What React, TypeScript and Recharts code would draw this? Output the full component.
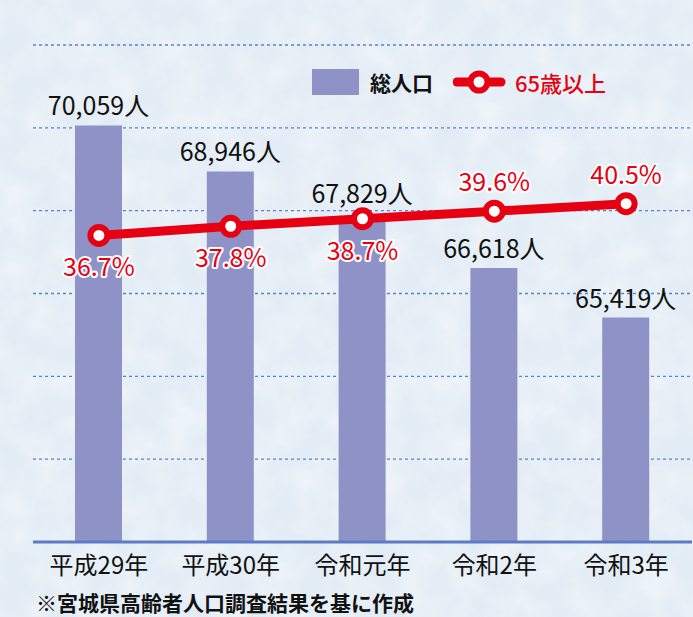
import React from "react";
import {
  ComposedChart,
  Bar,
  Line,
  XAxis,
  YAxis,
  CartesianGrid,
  LabelList,
} from "recharts";

const years = ["平成29年", "平成30年", "令和元年", "令和2年", "令和3年"];
const population = [70059, 68946, 67829, 66618, 65419];
const elderlyRate = [36.7, 37.8, 38.7, 39.6, 40.5];
const popTicks = [60000, 62000, 64000, 66000, 68000, 70000, 72000];

const data = years.map((year, i) => ({
  year,
  pop: population[i],
  rate: elderlyRate[i],
}));

const FONT = "'Noto Sans CJK JP', 'Noto Sans', sans-serif";
const RED = "#e60012";
const BAR = "#8e92c7";
const GRID = "#5f7fcb";

const YearTick = (props: any) => {
  const { x, payload } = props;
  return (
    <text
      x={x}
      y={574}
      textAnchor="middle"
      fontSize={24}
      fontFamily={FONT}
      fill="#111"
    >
      {payload.value}
    </text>
  );
};

const PopLabel = (props: any) => {
  const { x, y, width, value, index } = props;
  // the middle label sits a little higher so the line does not cross it
  const lift = index === 2 ? 5 : 0;
  return (
    <text
      x={x + width / 2}
      y={y - 10 - lift}
      textAnchor="middle"
      fontSize={25}
      fontFamily={FONT}
      fill="#111"
    >
      {`${Number(value).toLocaleString("en-US")}人`}
    </text>
  );
};

const RateLabel = (props: any) => {
  const { x, y, value, index } = props;
  // first three below the point, last two above
  const below = index < 3;
  return (
    <text
      x={x}
      y={below ? y + 41 : y - 20}
      textAnchor="middle"
      fontSize={25}
      fontFamily={FONT}
      fill={RED}
      stroke="#fff"
      strokeWidth={4}
      strokeLinejoin="round"
      paintOrder="stroke"
    >
      {`${value}%`}
    </text>
  );
};

export default function App() {
  return (
    <div
      style={{
        position: "absolute",
        left: 0,
        top: 0,
        width: 693,
        height: 617,
        background: "#e6eff7",
        fontFamily: FONT,
        overflow: "hidden",
      }}
    >
      <svg
        width={693}
        height={617}
        style={{ position: "absolute", left: 0, top: 0 }}
      >
        <filter id="paper">
          <feTurbulence
            type="fractalNoise"
            baseFrequency="0.03"
            numOctaves={4}
            seed={3}
          />
          <feColorMatrix
            type="matrix"
            values="0 0 0 0 1  0 0 0 0 1  0 0 0 0 1  0 0 0 -1.6 1.15"
          />
        </filter>
        <rect width={693} height={617} fill="#e2ecf5" />
        <rect width={693} height={617} filter="url(#paper)" opacity={0.45} />
      </svg>

      <ComposedChart
        width={693}
        height={617}
        data={data}
        margin={{ top: 45, right: 1, bottom: 35, left: 33 }}
        style={{ position: "absolute", left: 0, top: 0 }}
      >
        <CartesianGrid
          yAxisId="pop"
          vertical={false}
          stroke={GRID}
          strokeDasharray="3 3"
          strokeWidth={1.3}
        />
        <XAxis
          dataKey="year"
          height={40}
          tickLine={false}
          axisLine={{ stroke: "#5b7bc4", strokeWidth: 3 }}
          tick={<YearTick />}
          interval={0}
        />
        <YAxis
          yAxisId="pop"
          hide
          domain={[60000, 72000]}
          ticks={popTicks}
          allowDataOverflow
        />
        <YAxis yAxisId="rate" hide orientation="right" domain={[0, 59.5]} />
        <Bar
          yAxisId="pop"
          dataKey="pop"
          fill={BAR}
          barSize={47}
          isAnimationActive={false}
        >
          <LabelList dataKey="pop" content={<PopLabel />} />
        </Bar>
        <Line
          yAxisId="rate"
          dataKey="rate"
          stroke={RED}
          strokeWidth={9}
          dot={{ r: 8.5, fill: "#fff", stroke: RED, strokeWidth: 6 }}
          activeDot={false}
          isAnimationActive={false}
        >
          <LabelList dataKey="rate" content={<RateLabel />} />
        </Line>
      </ComposedChart>

      {/* legend */}
      <div
        style={{
          position: "absolute",
          left: 312,
          top: 69,
          display: "flex",
          alignItems: "center",
          height: 26,
        }}
      >
        <div style={{ width: 47, height: 26, background: BAR }} />
        <span
          style={{
            marginLeft: 11,
            fontSize: 21,
            fontWeight: 700,
            color: "#111",
            lineHeight: "26px",
          }}
        >
          総人口
        </span>
        <svg width={54} height={26} style={{ marginLeft: 20 }}>
          <line x1={4} y1={13} x2={48} y2={13} stroke={RED} strokeWidth={9} strokeLinecap="round" />
          <circle cx={26} cy={13} r={8.5} fill="#fff" stroke={RED} strokeWidth={6} />
        </svg>
        <span
          style={{
            marginLeft: 8,
            fontSize: 22,
            fontWeight: 500,
            color: RED,
            lineHeight: "26px",
          }}
        >
          65歳以上
        </span>
      </div>

      {/* source note */}
      <div
        style={{
          position: "absolute",
          left: 36,
          top: 590,
          fontSize: 21,
          fontWeight: 600,
          color: "#111",
          lineHeight: "24px",
          whiteSpace: "nowrap",
        }}
      >
        ※宮城県高齢者人口調査結果を基に作成
      </div>
    </div>
  );
}
